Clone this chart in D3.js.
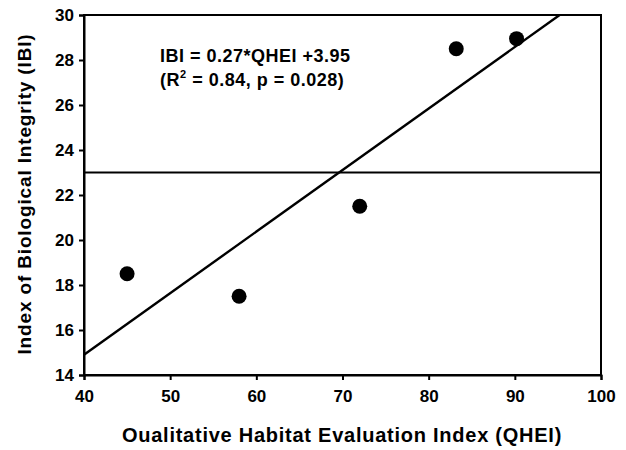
<!DOCTYPE html>
<html>
<head>
<meta charset="utf-8">
<script src="https://cdn.jsdelivr.net/npm/d3@7"></script>
<style>
body { margin: 0; background: #fff; }
text { font-family: "Liberation Sans", Arial, sans-serif; font-weight: bold; fill: #000; }
</style>
</head>
<body>
<div id="chart-area"></div>
<script>
// data
var qhei = [45, 58, 72, 83.2, 90.2];
var ibi = [18.5, 17.5, 21.5, 28.5, 28.95];
var fitX = [40, 95.2];
var fitY = [14.9, 30];
var threshold = 23;
var xTicks = [40, 50, 60, 70, 80, 90, 100];
var yTicks = [14, 16, 18, 20, 22, 24, 26, 28, 30];

var width = 626, height = 450;
var mLeft = 84, mTop = 15, mRight = 601, mBottom = 375;

var svg = d3.select("#chart-area").append("svg")
	.attr("width", width)
	.attr("height", height);

var x = d3.scaleLinear().domain([40, 100]).range([mLeft, mRight]);
var y = d3.scaleLinear().domain([14, 30]).range([mBottom, mTop]);

// frame
svg.append("rect")
	.attr("x", mLeft).attr("y", mTop)
	.attr("width", mRight - mLeft).attr("height", mBottom - mTop)
	.attr("fill", "none").attr("stroke", "#000").attr("stroke-width", 2);

var bottomAxis = d3.axisBottom(x).tickValues(xTicks).tickSize(5).tickPadding(10);
var gx = svg.append("g")
	.attr("transform", "translate(0," + mBottom + ")")
	.call(bottomAxis);
gx.select(".domain").attr("stroke-width", 2);
gx.selectAll("line").attr("stroke-width", 2);
gx.selectAll("text").attr("font-size", "17px");

var leftAxis = d3.axisLeft(y).tickValues(yTicks).tickSize(5).tickPadding(5);
var gy = svg.append("g")
	.attr("transform", "translate(" + mLeft + ",0)")
	.call(leftAxis);
gy.select(".domain").attr("stroke-width", 2);
gy.selectAll("line").attr("stroke-width", 2);
gy.selectAll("text").attr("font-size", "17px");

// threshold line
svg.append("line")
	.attr("x1", x(40)).attr("x2", x(100))
	.attr("y1", y(threshold)).attr("y2", y(threshold))
	.attr("stroke", "#000").attr("stroke-width", 2);

// regression line
svg.append("line")
	.attr("x1", x(fitX[0])).attr("y1", y(fitY[0]))
	.attr("x2", x(fitX[1])).attr("y2", y(fitY[1]))
	.attr("stroke", "#000").attr("stroke-width", 2.4);

// points
svg.selectAll("circle").data(qhei).enter()
	.append("circle")
	.attr("cx", (d) => x(d))
	.attr("cy", (d, i) => y(ibi[i]))
	.attr("r", 7.5)
	.attr("fill", "#000");

// annotation
var note = svg.append("text").attr("x", 160).attr("y", 62)
	.attr("font-size", "18px").attr("letter-spacing", "0.5px");
note.text("IBI = 0.27*QHEI +3.95");
var note2 = svg.append("text").attr("x", 160).attr("y", 86)
	.attr("font-size", "18px").attr("letter-spacing", "0.5px");
note2.append("tspan").text("(R");
note2.append("tspan").attr("font-size", "11px").attr("dy", -8).text("2");
note2.append("tspan").attr("dy", 8).text(" = 0.84, p = 0.028)");

// axis titles
svg.append("text")
	.attr("x", 342).attr("y", 442)
	.attr("font-size", "20px")
	.attr("letter-spacing", "0.75px")
	.attr("text-anchor", "middle")
	.text("Oualitative Habitat Evaluation Index (QHEI)");
svg.append("text")
	.attr("transform", "translate(31," + 194 + ") rotate(-90)")
	.attr("font-size", "19px")
	.attr("letter-spacing", "0.85px")
	.attr("text-anchor", "middle")
	.text("Index of Biological Integrity (IBI)");
</script>
</body>
</html>
